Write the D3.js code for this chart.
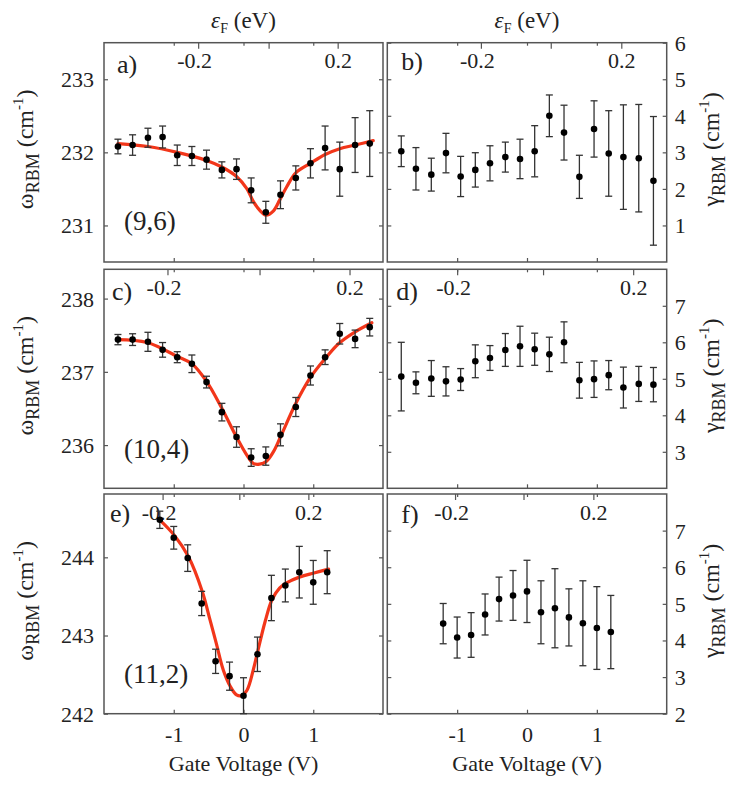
<!DOCTYPE html>
<html>
<head>
<meta charset="utf-8">
<script src="https://cdn.jsdelivr.net/npm/d3@7"></script>
<style>
  html, body { margin: 0; padding: 0; background: #fff; }
  svg { display: block; }
</style>
</head>
<body>
<svg id="chart" width="750" height="786"></svg>
<script>
// ---------------- data ----------------
const voltsABCD = [-1.80,-1.59,-1.37,-1.16,-0.95,-0.74,-0.53,-0.31,-0.10,0.11,0.32,0.53,0.75,0.96,1.17,1.38,1.60,1.81];
const voltsEF = [-1.2,-1.0,-0.8,-0.6,-0.4,-0.2,0,0.2,0.4,0.6,0.8,1.0,1.2];

const omegaA = [232.08,232.10,232.20,232.21,231.96,231.95,231.90,231.76,231.77,231.48,231.18,231.42,231.65,231.85,232.06,231.77,232.10,232.12];
const errA   = [0.10,0.14,0.13,0.15,0.14,0.13,0.13,0.11,0.14,0.17,0.15,0.19,0.165,0.20,0.30,0.37,0.375,0.45];

const gammaB = [3.03,2.55,2.39,2.98,2.34,2.52,2.70,2.87,2.82,3.03,4.00,3.54,2.33,3.64,2.97,2.87,2.84,2.22];
const errB   = [0.42,0.58,0.45,0.54,0.55,0.47,0.48,0.41,0.54,0.70,0.57,0.75,0.59,0.77,1.17,1.43,1.47,1.76];

const omegaC = [237.44,237.44,237.41,237.30,237.20,237.11,236.86,236.45,236.11,235.83,235.85,236.14,236.52,236.95,237.20,237.52,237.45,237.61];
const errC   = [0.07,0.08,0.13,0.10,0.075,0.12,0.08,0.12,0.14,0.12,0.125,0.15,0.13,0.13,0.10,0.14,0.12,0.12];

const gammaD = [5.06,4.89,5.01,4.93,4.98,5.48,5.57,5.79,5.89,5.81,5.67,6.00,4.96,4.99,5.10,4.76,4.86,4.84];
const errD   = [0.94,0.30,0.49,0.40,0.30,0.45,0.34,0.45,0.55,0.44,0.47,0.56,0.49,0.50,0.40,0.56,0.48,0.47];

const omegaE = [244.48,244.25,243.99,243.41,242.67,242.48,242.23,242.76,243.48,243.64,243.81,243.68,243.81];
const errE   = [0.11,0.145,0.17,0.155,0.155,0.18,0.23,0.22,0.29,0.21,0.33,0.28,0.275];

const gammaF = [4.46,4.08,4.15,4.71,5.13,5.23,5.34,4.77,4.88,4.63,4.47,4.34,4.23];
const errF   = [0.55,0.56,0.61,0.56,0.60,0.68,0.85,0.86,1.08,0.78,1.16,1.13,1.00];

// fitted curves
const fitAV = [-1.80,-1.37,-0.95,-0.53,-0.31,-0.10,0.05,0.14,0.24,0.32,0.43,0.52,0.62,0.75,0.96,1.17,1.38,1.60,1.86];
const fitAW = [232.12,232.08,232.00,231.89,231.80,231.67,231.50,231.33,231.20,231.14,231.20,231.35,231.53,231.72,231.85,231.97,232.05,232.10,232.16];
const fitCV = [-1.81,-1.38,-0.95,-0.74,-0.53,-0.32,-0.10,0.05,0.14,0.23,0.33,0.43,0.53,0.74,0.95,1.17,1.37,1.59,1.84];
const fitCW = [237.44,237.40,237.21,237.11,236.87,236.52,236.11,235.86,235.75,235.74,235.78,235.91,236.11,236.55,236.91,237.18,237.39,237.54,237.67];
const fitEV = [-1.19,-0.99,-0.79,-0.59,-0.48,-0.39,-0.29,-0.19,-0.10,-0.03,0.05,0.14,0.21,0.31,0.41,0.52,0.61,0.81,1.01,1.22];
const fitEW = [244.47,244.28,244.01,243.56,243.20,242.90,242.56,242.35,242.24,242.23,242.30,242.56,242.82,243.18,243.46,243.61,243.67,243.75,243.80,243.85];

// top axis: Fermi energy ticks (eV) and the gate voltage where they fall
const efTicks = [-0.2, 0, 0.2];
const efTickLabels = ["-0.2", "", "0.2"];
const efA = [-0.65, 0.36, 1.35];
const efB = [-0.66, 0.34, 1.35];
const efC = [-1.09, 0.23, 1.52];
const efD = [-1.00, 0.23, 1.52];
const efE = [-1.16, -0.06, 0.93];
const efF = [-1.03, -0.05, 0.95];

const voltTicks = [-1, 0, 1];
const ticksA = [231, 232, 233];
const ticksB = [1, 2, 3, 4, 5, 6];
const ticksC = [236, 237, 238];
const ticksD = [3, 4, 5, 6, 7];
const ticksE = [242, 243, 244];
const ticksF = [2, 3, 4, 5, 6, 7];

const panelLetters = ["a)", "b)", "c)", "d)", "e)", "f)"];
const tubeLabels = ["(9,6)", "(10,4)", "(11,2)"];

// ---------------- layout ----------------
const FONT = "Liberation Serif";
const svg = d3.select("#chart").attr("font-family", FONT);
const cols = [[104, 383], [387.3, 666.7]];
const rows = [[42.7, 262], [269.3, 488.3], [494, 713.7]];
const xDomain = [-2, 2];
const red = "#f2361a";
const frameColor = "#555";
const textColor = "#222";

const panels = [
  {col:0,row:0,v:voltsABCD,y:omegaA,e:errA,dom:[230.5,233.5],ticks:ticksA,ef:efA,fitV:fitAV,fitW:fitAW,letter:panelLetters[0],tube:tubeLabels[0],letterDx:13,letterY:73},
  {col:1,row:0,v:voltsABCD,y:gammaB,e:errB,dom:[0,6],ticks:ticksB,ef:efB,letter:panelLetters[1],letterDx:14,letterY:70},
  {col:0,row:1,v:voltsABCD,y:omegaC,e:errC,dom:[235.41,238.4],ticks:ticksC,ef:efC,fitV:fitCV,fitW:fitCW,letter:panelLetters[2],tube:tubeLabels[1],letterDx:8,letterY:300},
  {col:1,row:1,v:voltsABCD,y:gammaD,e:errD,dom:[2,8],ticks:ticksD,ef:efD,letter:panelLetters[3],letterDx:9,letterY:300},
  {col:0,row:2,v:voltsEF,y:omegaE,e:errE,dom:[242,244.81],ticks:ticksE,ef:efE,fitV:fitEV,fitW:fitEW,letter:panelLetters[4],tube:tubeLabels[2],letterDx:6,letterY:522},
  {col:1,row:2,v:voltsEF,y:gammaF,e:errF,dom:[2,8],ticks:ticksF,ef:efF,letter:panelLetters[5],letterDx:14,letterY:523},
];
const tubeY = [230, 458, 683];

function styleAxis(g, fs) {
  g.attr("font-family", FONT);
  g.select(".domain").remove();
  g.selectAll(".tick line").attr("stroke", frameColor).attr("stroke-width", 1.2);
  g.selectAll(".tick text").attr("font-size", fs).attr("fill", textColor).attr("font-family", FONT);
}

function txt(sel) {
  return sel.append("text").attr("font-family", FONT).attr("fill", textColor);
}

panels.forEach(p => {
  const [x0, x1] = cols[p.col];
  const [y0, y1] = rows[p.row];
  const x = d3.scaleLinear().domain(xDomain).range([x0, x1]);
  const y = d3.scaleLinear().domain(p.dom).range([y1, y0]);
  const g = svg.append("g");

  // y ticks, both sides, inward
  const yLeft = d3.axisLeft(y).tickValues(p.ticks).tickSize(-4).tickPadding(10)
    .tickFormat(p.col === 0 ? (d => String(d)) : () => "");
  const gl = g.append("g").attr("transform", `translate(${x0},0)`).call(yLeft).call(a => styleAxis(a, 22));
  const yRight = d3.axisRight(y).tickValues(p.ticks).tickSize(-4).tickPadding(8)
    .tickFormat(p.col === 1 ? (d => String(d)) : () => "");
  const gr = g.append("g").attr("transform", `translate(${x1},0)`).call(yRight).call(a => styleAxis(a, 22));
  gl.selectAll(".tick text").attr("dy", "0.34em");
  gr.selectAll(".tick text").attr("dy", "0.34em");

  // bottom voltage ticks
  const xBot = d3.axisBottom(x).tickValues(voltTicks).tickSize(-4).tickPadding(13)
    .tickFormat(p.row === 2 ? (d => String(d)) : () => "");
  g.append("g").attr("transform", `translate(0,${y1})`).call(xBot).call(a => styleAxis(a, 22));
  // mirrored short voltage ticks at top
  const xTop = d3.axisTop(x).tickValues(voltTicks).tickSize(-3).tickFormat(() => "");
  g.append("g").attr("transform", `translate(0,${y0})`).call(xTop).call(a => styleAxis(a, 22));

  // top Fermi-energy axis (ticks and labels inside the frame)
  const ef = d3.scaleLinear().domain(efTicks).range(p.ef.map(v => x(v)));
  const efAxis = d3.axisBottom(ef).tickValues(efTicks).tickSize(6).tickPadding(4)
    .tickFormat((d, i) => efTickLabels[i]);
  const ge = g.append("g").attr("transform", `translate(0,${y0})`).call(efAxis).call(a => styleAxis(a, 22));
  ge.selectAll(".tick text").attr("dx", (d, i) => i === 0 ? -4 : 0);

  // frame
  g.append("rect").attr("x", x0).attr("y", y0).attr("width", x1 - x0).attr("height", y1 - y0)
    .attr("fill", "none").attr("stroke", frameColor).attr("stroke-width", 1.5);

  // fit curve
  if (p.fitV) {
    const pts = p.fitV.map((v, i) => [v, p.fitW[i]]);
    g.append("path").datum(pts)
      .attr("d", d3.line().x(d => x(d[0])).y(d => y(d[1])).curve(d3.curveCatmullRom.alpha(0.5)))
      .attr("fill", "none").attr("stroke", red).attr("stroke-width", 3.2)
      .attr("stroke-linejoin", "round").attr("stroke-linecap", "round");
  }

  // error bars
  const data = p.v.map((v, i) => ({v, w: p.y[i], e: p.e[i]}));
  const eb = g.append("g").attr("stroke", "#333").attr("stroke-width", 1.3);
  data.forEach(d => {
    const cx = x(d.v), ya = y(d.w + d.e), yb = y(d.w - d.e);
    eb.append("line").attr("x1", cx).attr("x2", cx).attr("y1", ya).attr("y2", yb);
    eb.append("line").attr("x1", cx - 3.5).attr("x2", cx + 3.5).attr("y1", ya).attr("y2", ya);
    eb.append("line").attr("x1", cx - 3.5).attr("x2", cx + 3.5).attr("y1", yb).attr("y2", yb);
  });
  g.append("g").selectAll("circle").data(data).join("circle")
    .attr("cx", d => x(d.v)).attr("cy", d => y(d.w)).attr("r", 3.3).attr("fill", "#000");

  // panel letter
  txt(g).attr("x", x0 + p.letterDx).attr("y", p.letterY).attr("font-size", 26).text(p.letter);
  if (p.tube) {
    txt(g).attr("x", 124).attr("y", tubeY[p.row]).attr("font-size", 27).text(p.tube);
  }

  // axis titles
  const cy = (y0 + y1) / 2 - 3;
  const tx = p.col === 0 ? 33 : 719;
  const sym = p.col === 0 ? "ω" : "γ";
  const t = txt(svg).attr("transform", `translate(${tx},${cy}) rotate(-90)`)
    .attr("text-anchor", "middle").attr("font-size", 24);
  t.append("tspan").text(sym);
  t.append("tspan").attr("font-size", 18).attr("dy", 6).text("RBM");
  t.append("tspan").attr("dy", -6).text(" (cm");
  t.append("tspan").attr("font-size", 15).attr("dy", -10).text("-1");
  t.append("tspan").attr("dy", 10).text(")");
});

// top ε_F titles and bottom titles
[0, 1].forEach(c => {
  const [x0, x1] = cols[c];
  const x = d3.scaleLinear().domain(xDomain).range([x0, x1]);
  const t = txt(svg).attr("x", x(0)).attr("y", 28).attr("text-anchor", "middle").attr("font-size", 23);
  t.append("tspan").attr("font-style", "italic").text("ε");
  t.append("tspan").attr("font-size", 14).attr("dy", 5).text("F");
  t.append("tspan").attr("dy", -5).text(" (eV)");
  txt(svg).attr("x", x(0)).attr("y", 771).attr("text-anchor", "middle").attr("font-size", 22)
    .text("Gate Voltage (V)");
});
</script>
</body>
</html>
